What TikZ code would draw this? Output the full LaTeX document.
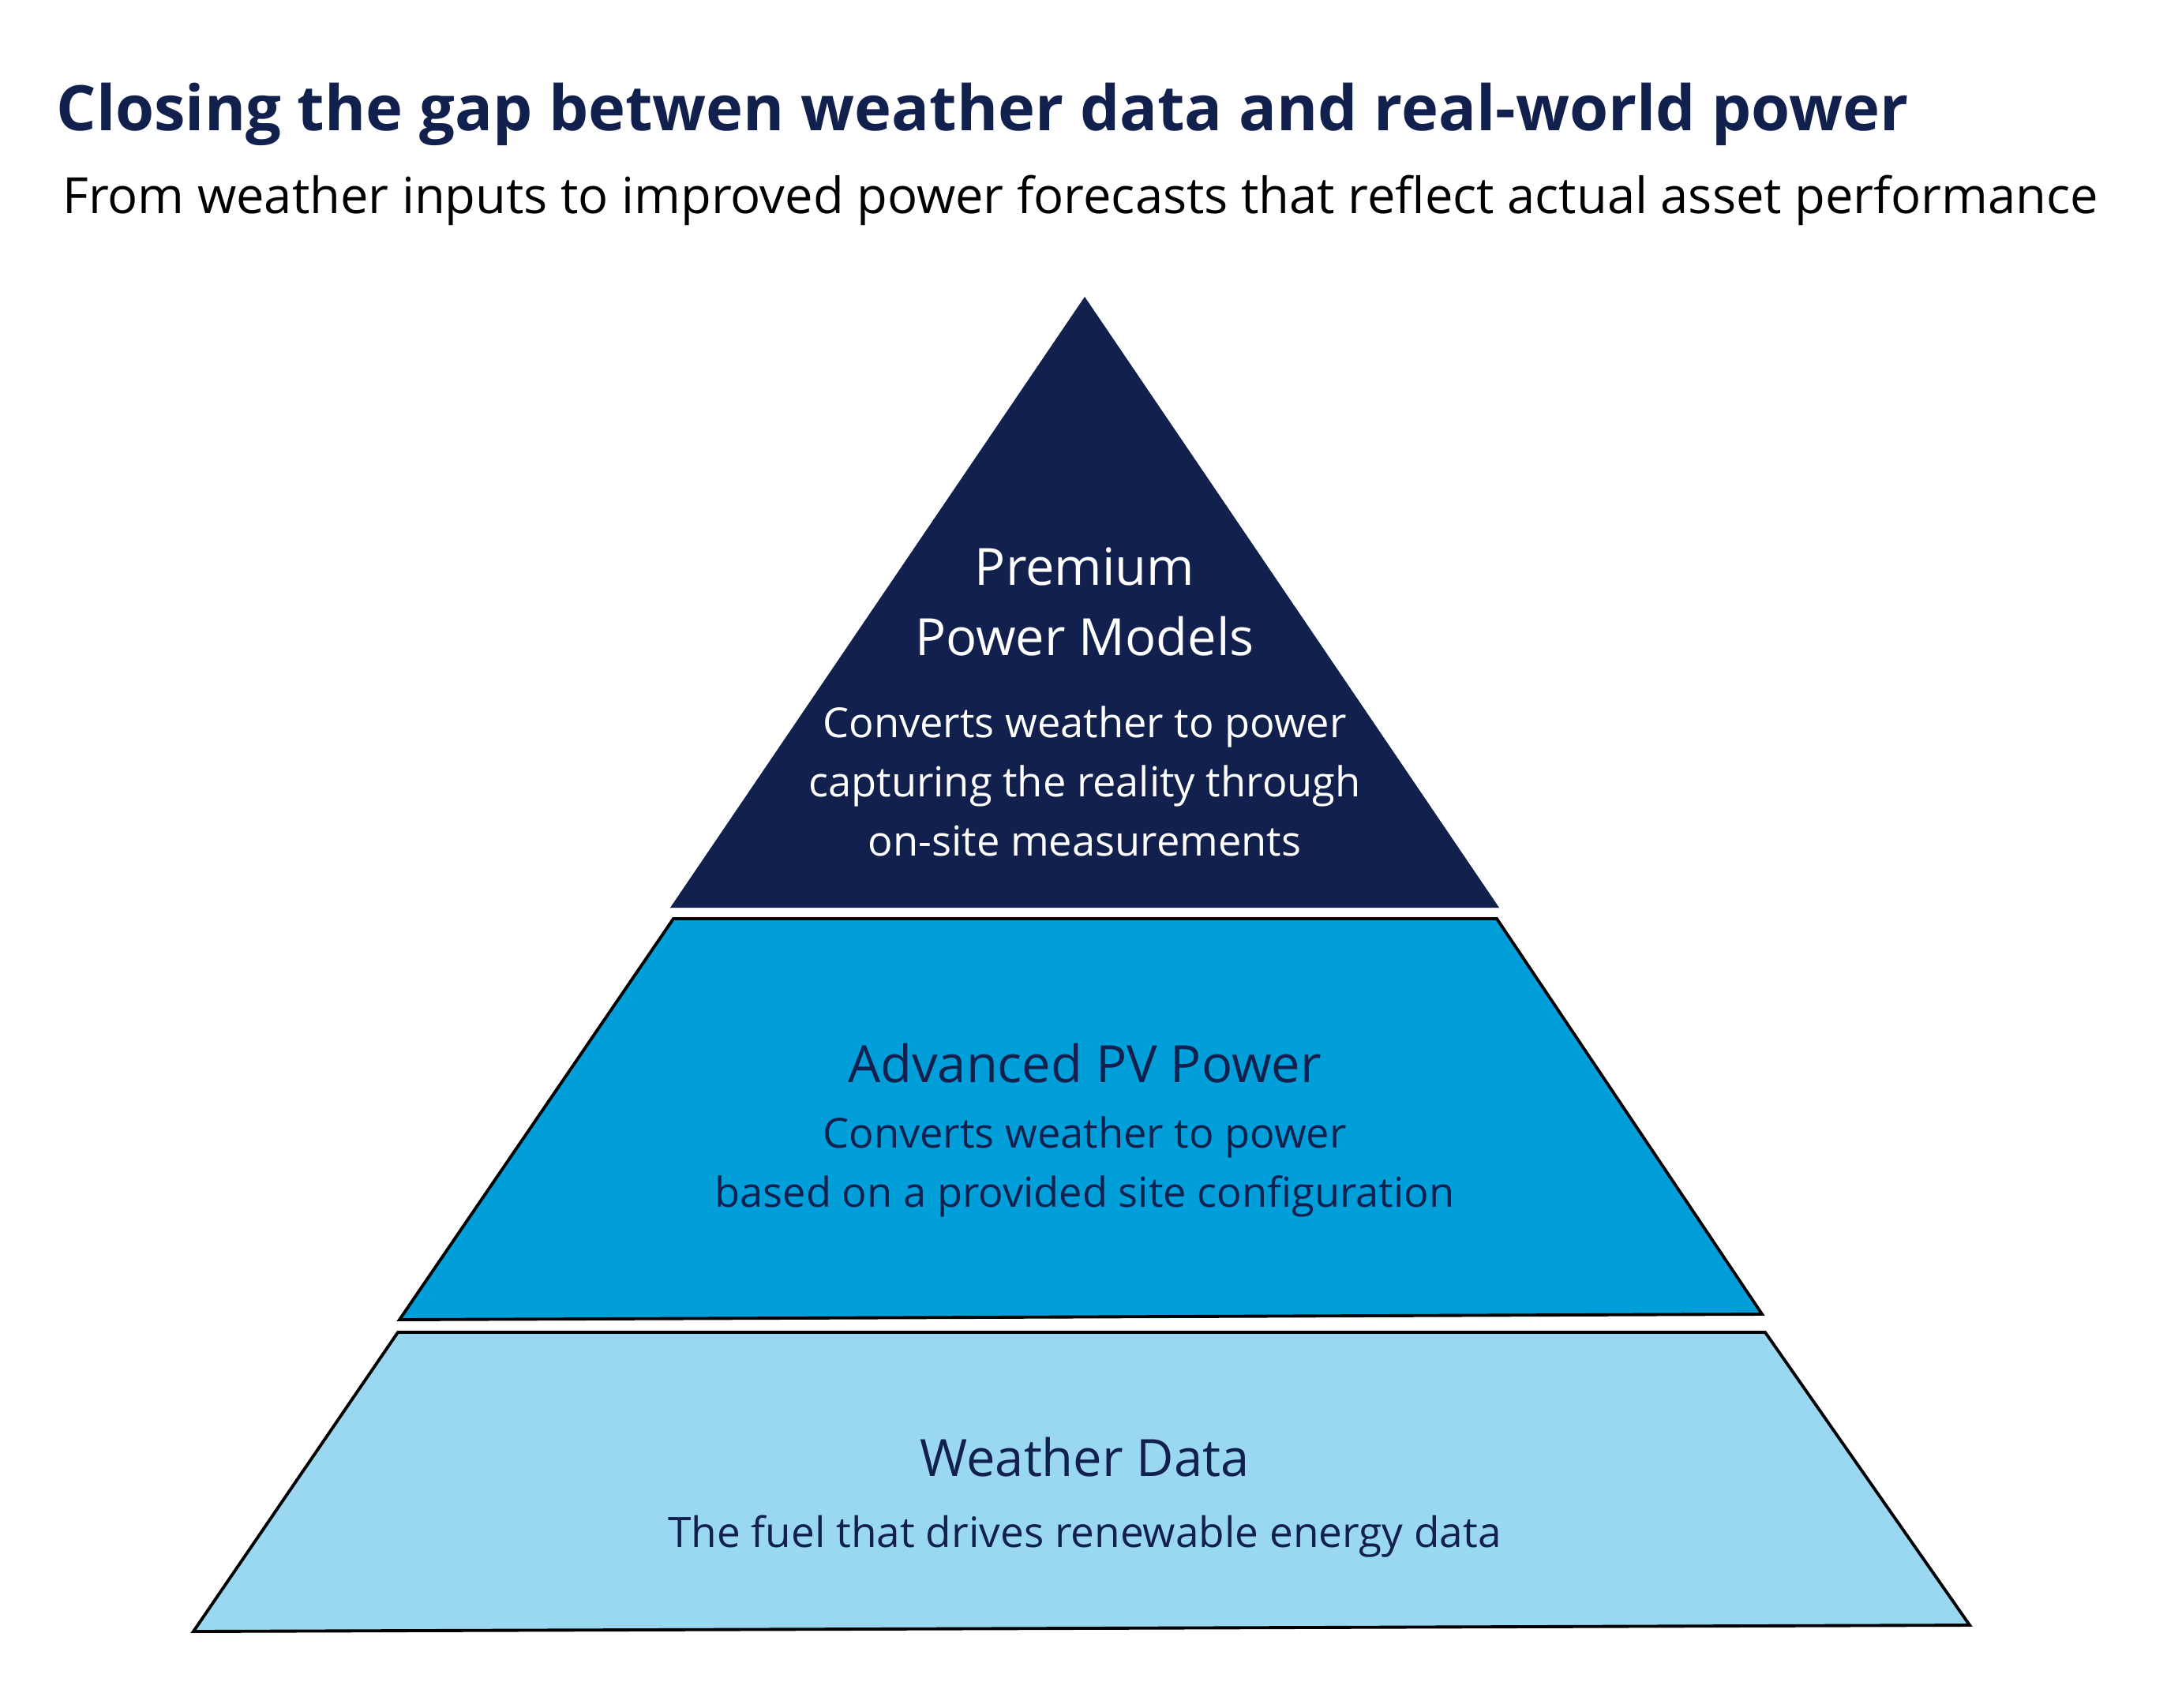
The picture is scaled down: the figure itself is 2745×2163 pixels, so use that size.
\documentclass[tikz,border=0pt]{standalone}
\usepackage{fontspec}
\setmainfont{Open Sans}
\definecolor{navy}{HTML}{11204D}
\definecolor{midblue}{HTML}{009FDA}
\definecolor{lightblue}{HTML}{99D8F0}
\begin{document}
\begin{tikzpicture}[x=0.01cm,y=-0.01cm,
  tier/.style={draw=black,line width=1.1pt,line join=miter},
  head/.style={align=center,font=\fontsize{18.5}{25.3}\selectfont},
  body/.style={align=center,font=\fontsize{14.9}{21.3}\selectfont}]
\useasboundingbox (0,0) rectangle (2745,2163);
% tiers
\fill[navy] (1374,376) -- (1899,1150) -- (849,1150) -- cycle;
\filldraw[tier,fill=midblue] (853,1164) -- (1896,1164) -- (2232,1665) -- (506,1672) -- cycle;
\filldraw[tier,fill=lightblue] (504,1688) -- (2236,1688) -- (2495,2059) -- (245,2067) -- cycle;
% titles
\node[anchor=west,text=navy,font=\fontsize{22.6}{28}\selectfont\bfseries] (title) at (59,145) {Closing the gap betwen weather data and real-world power};
\node[anchor=west,text=black,font=\fontsize{18}{22}\selectfont] (subtitle) at (67,254) {From weather inputs to improved power forecasts that reflect actual asset performance};
% top tier text
\node[head,text=white] (t1) at (1374,762) {Premium\\Power Models};
\node[body,text=white] (t2) at (1374,990) {Converts weather to power\\capturing the reality through\\on-site measurements};
% middle tier text
\node[head,text=navy] (m1) at (1374,1347) {Advanced PV Power};
\node[body,text=navy] (m2) at (1374,1478) {Converts weather to power\\based on a provided site configuration};
% bottom tier text
\node[head,text=navy] (b1) at (1374,1846) {Weather Data};
\node[body,text=navy,font=\fontsize{15.1}{21.3}\selectfont] (b2) at (1374,1947) {The fuel that drives renewable energy data};
\end{tikzpicture}
\end{document}
